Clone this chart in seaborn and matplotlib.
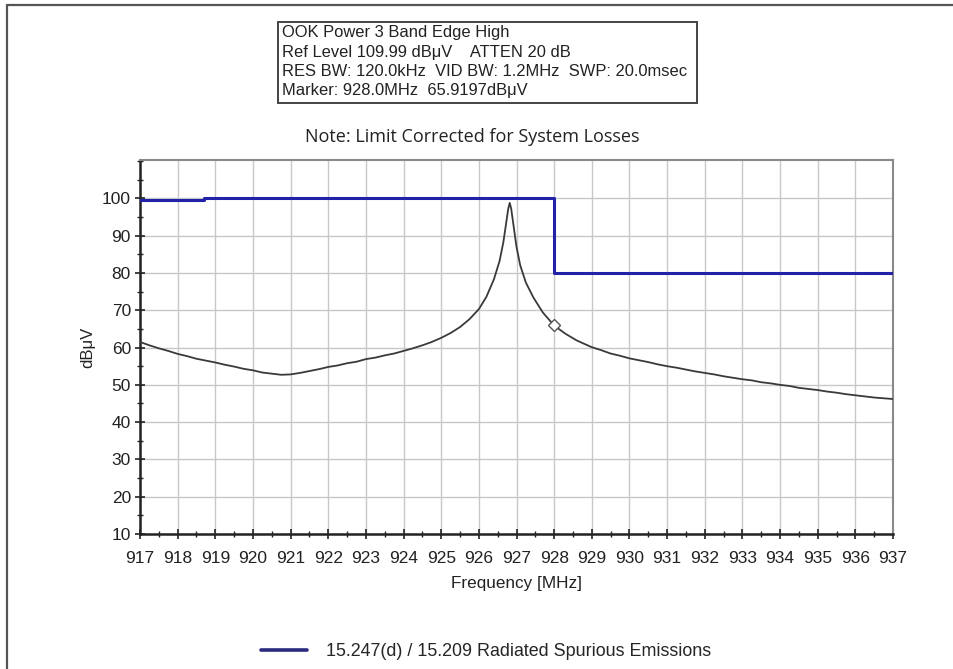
import numpy as np
import pandas as pd
import matplotlib
matplotlib.use("Agg")
import matplotlib.pyplot as plt
from matplotlib.lines import Line2D
from matplotlib.ticker import MultipleLocator
import seaborn as sns

# Measured trace (frequency in MHz, level in dBuV)
trace_freq = [917.0, 917.25, 917.5, 917.75, 918.0, 918.25, 918.5, 918.75, 919.0, 919.25,
              919.5, 919.75, 920.0, 920.25, 920.5, 920.75, 921.0, 921.25, 921.5, 921.75,
              922.0, 922.25, 922.5, 922.75, 923.0, 923.25, 923.5, 923.75, 924.0, 924.25,
              924.5, 924.75, 925.0, 925.25, 925.5, 925.75, 926.0, 926.2, 926.4, 926.55,
              926.65, 926.72, 926.78, 926.82, 926.86, 926.92, 927.0, 927.1, 927.25, 927.45,
              927.7, 928.0, 928.3, 928.6, 929.0, 929.25, 929.5, 929.75, 930.0, 930.25,
              930.5, 930.75, 931.0, 931.25, 931.5, 931.75, 932.0, 932.25, 932.5, 932.75,
              933.0, 933.25, 933.5, 933.75, 934.0, 934.25, 934.5, 934.75, 935.0, 935.25,
              935.5, 935.75, 936.0, 936.25, 936.5, 936.75, 937.0]
trace_level = [61.5, 60.6, 59.8, 59.1, 58.3, 57.7, 57.0, 56.5, 56.0, 55.4,
               54.9, 54.3, 53.9, 53.3, 53.0, 52.7, 52.8, 53.2, 53.7, 54.2,
               54.8, 55.2, 55.8, 56.2, 56.9, 57.3, 57.9, 58.4, 59.1, 59.8,
               60.6, 61.5, 62.6, 63.9, 65.5, 67.6, 70.3, 73.6, 78.3, 83.2,
               88.2, 93.0, 97.2, 98.8, 97.2, 92.8, 87.0, 82.0, 77.4, 73.4,
               69.4, 65.9, 63.7, 61.9, 60.1, 59.3, 58.4, 57.8, 57.1, 56.6,
               56.1, 55.5, 55.0, 54.6, 54.1, 53.6, 53.2, 52.8, 52.3, 51.9,
               51.5, 51.2, 50.7, 50.4, 50.0, 49.7, 49.2, 48.9, 48.6, 48.2,
               47.9, 47.5, 47.2, 46.9, 46.6, 46.4, 46.2]

# FCC limit line
limit_freq = [917.0, 918.7, 928.0, 937.0]
limit_level = [99.6, 100.0, 80.0, 80.0]

# Marker reading
marker_freq = [928.0]
marker_level = [65.9197]

x_ticks = list(range(917, 938))
y_ticks = list(range(10, 101, 10))

header_lines = [
    "OOK Power 3 Band Edge High",
    "Ref Level 109.99 dB\u03bcV    ATTEN 20 dB",
    "RES BW: 120.0kHz  VID BW: 1.2MHz  SWP: 20.0msec",
    "Marker: 928.0MHz  65.9197dB\u03bcV",
]
note_text = "Note: Limit Corrected for System Losses"
legend_label = "15.247(d) / 15.209 Radiated Spurious Emissions"

sns.set_theme(style="white")
plt.rcParams["font.family"] = ["Liberation Sans", "DejaVu Sans"]

fig = plt.figure(figsize=(9.54, 6.69), dpi=100)
ax = fig.add_axes([140 / 954, 135 / 669, 753 / 954, 374 / 669])

trace_df = pd.DataFrame({"freq": trace_freq, "level": trace_level})
limit_df = pd.DataFrame({"freq": limit_freq, "level": limit_level})

limit_color = "#2222a8"
sns.lineplot(data=trace_df, x="freq", y="level", ax=ax, color="#3a3a3a",
             linewidth=1.3, sort=False, zorder=3)
sns.lineplot(data=limit_df, x="freq", y="level", ax=ax, color=limit_color,
             linewidth=2.2, drawstyle="steps-post", sort=False, zorder=4)
ax.plot(marker_freq, marker_level, marker="D", markersize=6, markerfacecolor="white",
        markeredgecolor="#555555", markeredgewidth=1.0, linestyle="none", zorder=5)

ax.set_xlim(917, 937)
ax.set_ylim(10, 110.3)
ax.set_xticks(x_ticks)
ax.set_yticks(y_ticks)
ax.xaxis.set_minor_locator(MultipleLocator(0.5))
ax.yaxis.set_minor_locator(MultipleLocator(5))
ax.grid(True, which="major", color="#c8c8c8", linewidth=1.0)
ax.set_axisbelow(True)

ax.tick_params(axis="both", which="major", direction="inout", length=7, width=1.2,
               color="#222222", labelsize=12.5, labelcolor="#222222")
ax.tick_params(axis="x", which="major", pad=9)
ax.tick_params(axis="y", which="major", pad=3)
ax.tick_params(axis="both", which="minor", direction="inout", length=5, width=1.0,
               color="#222222")
ax.tick_params(axis="both", which="both", top=False, right=False, bottom=True, left=True)

for side in ["left", "bottom"]:
    ax.spines[side].set_color("#222222")
    ax.spines[side].set_linewidth(1.8)
for side in ["top", "right"]:
    ax.spines[side].set_color("#8a8a8a")
    ax.spines[side].set_linewidth(1.5)

ax.set_xlabel("Frequency [MHz]", fontsize=12.3, color="#222222", labelpad=7)
ax.set_ylabel("dB\u03bcV", fontsize=12, color="#222222", labelpad=5)

# Header block with instrument settings
header_y = [33, 52, 72, 91]
for line, yp in zip(header_lines, header_y):
    fig.text(282 / 954, 1 - yp / 669, line, fontsize=11.9, color="#222222",
             ha="left", va="center")
fig.add_artist(plt.Rectangle((278 / 954, 1 - 103 / 669), 419 / 954, 81 / 669,
                             transform=fig.transFigure, fill=False,
                             edgecolor="#444444", linewidth=1.4))
fig.text(472 / 954, 1 - 137 / 669, note_text, fontsize=13, color="#222222",
         ha="center", va="center", family=["Open Sans", "DejaVu Sans"])

# Legend at the bottom
handle = Line2D([], [], color="#2a2a80", linewidth=2.6)
fig.legend([handle], [legend_label], loc="center", bbox_to_anchor=(486 / 954, 1 - 652 / 669),
           frameon=False, fontsize=12.9, handlelength=2.6, handletextpad=1.05)

# Outer frame edges
fig.add_artist(Line2D([7 / 954, 1], [1 - 5 / 669, 1 - 5 / 669], transform=fig.transFigure,
                      color="#555555", linewidth=1.6))
fig.add_artist(Line2D([7 / 954, 7 / 954], [0, 1 - 5 / 669], transform=fig.transFigure,
                      color="#555555", linewidth=1.6))

fig.savefig("out.png", dpi=100, facecolor="white")
